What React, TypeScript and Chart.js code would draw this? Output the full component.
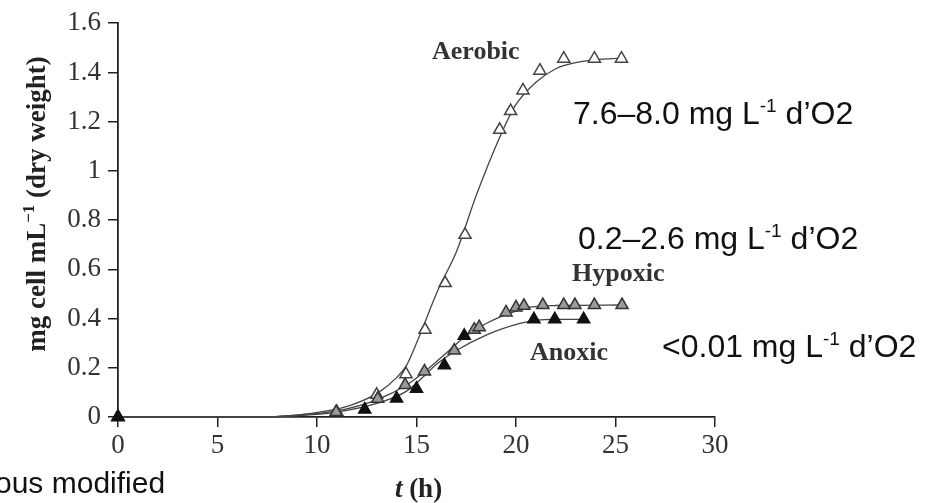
import React, { useEffect, useRef } from 'react';
import { Chart, registerables } from 'chart.js';

Chart.register(...registerables);

// ---- tick labels ----
const xTickLabels = ['0', '5', '10', '15', '20', '25', '30'];
const yTickLabels = ['0', '0.2', '0.4', '0.6', '0.8', '1', '1.2', '1.4', '1.6'];

// ---- measured points (t in h, mg cell mL-1) ----
const aerobicT = [0, 11.0, 13.0, 14.47, 15.43, 16.44, 17.44, 19.18, 19.73, 20.35, 21.2, 22.4, 23.94, 25.3];
const aerobicV = [0, 0.02, 0.09, 0.174, 0.354, 0.544, 0.74, 1.167, 1.243, 1.327, 1.407, 1.456, 1.456, 1.456];

const hypoxicT = [0, 10.96, 13.05, 14.43, 15.4, 16.9, 17.9, 18.15, 19.5, 20.0, 20.4, 21.35, 22.4, 22.96, 23.94, 25.33];
const hypoxicV = [0, 0.02, 0.074, 0.13, 0.185, 0.27, 0.355, 0.365, 0.425, 0.445, 0.452, 0.455, 0.455, 0.455, 0.455, 0.455];

const anoxicT = [0, 12.4, 14.0, 15.0, 16.4, 17.4, 20.9, 21.95, 23.4];
const anoxicV = [0, 0.03, 0.075, 0.115, 0.21, 0.33, 0.397, 0.397, 0.397];

// ---- fitted curves ----
const aerobicFitT = [0, 7, 9, 10.5, 11.6, 13.1, 14, 14.5, 15.1, 16.1, 17, 18, 19.2, 20, 21, 22, 23, 24, 25.3];
const aerobicFitV = [0, 0, 0.008, 0.025, 0.045, 0.1, 0.16, 0.21, 0.32, 0.52, 0.67, 0.9, 1.14, 1.27, 1.36, 1.415, 1.44, 1.452, 1.458];

const hypoxicFitT = [0, 7, 9, 11, 13, 14.5, 15.5, 16.5, 17.5, 18.5, 19.3, 20, 20.8, 22, 25.33];
const hypoxicFitV = [0, 0, 0.008, 0.025, 0.07, 0.13, 0.19, 0.26, 0.33, 0.38, 0.41, 0.43, 0.447, 0.453, 0.455];

const anoxicFitT = [0, 7, 9, 11, 13, 14.5, 16.1, 17, 18.5, 20.2, 21, 22, 23.4];
const anoxicFitV = [0, 0, 0.005, 0.02, 0.055, 0.105, 0.22, 0.27, 0.333, 0.38, 0.393, 0.397, 0.397];

const toXY = (ts: number[], vs: number[]) => ts.map((t, i) => ({ x: t, y: vs[i] }));

const SERIF = '"Liberation Serif", "Times New Roman", serif';
const SANS = '"Liberation Sans", Arial, Helvetica, sans-serif';

function drawWithSup(
  ctx: CanvasRenderingContext2D,
  before: string,
  sup: string,
  after: string,
  x: number,
  y: number,
  font: string,
  supFont: string,
  raise: number
) {
  ctx.font = font;
  ctx.fillText(before, x, y);
  let cx = x + ctx.measureText(before).width;
  ctx.font = supFont;
  ctx.fillText(sup, cx, y - raise);
  cx += ctx.measureText(sup).width;
  ctx.font = font;
  ctx.fillText(after, cx, y);
}

function measureWithSup(ctx: CanvasRenderingContext2D, before: string, sup: string, after: string, font: string, supFont: string) {
  ctx.font = font;
  let w = ctx.measureText(before).width + ctx.measureText(after).width;
  ctx.font = supFont;
  w += ctx.measureText(sup).width;
  return w;
}

const annotations = {
  id: 'annotations',
  afterDraw(chart: any) {
    const ctx: CanvasRenderingContext2D = chart.ctx;
    ctx.save();
    ctx.textAlign = 'left';
    ctx.textBaseline = 'alphabetic';

    // series labels
    ctx.fillStyle = '#333';
    ctx.font = `bold 26px ${SERIF}`;
    ctx.fillText('Aerobic', 432, 59);
    ctx.fillText('Hypoxic', 572, 281);
    ctx.fillText('Anoxic', 530, 360);

    // oxygen notes
    ctx.fillStyle = '#111';
    const f = `32px ${SANS}`;
    const fs = `19px ${SANS}`;
    drawWithSup(ctx, '7.6–8.0 mg L', '-1', ' d’O2', 573, 124, f, fs, 12);
    drawWithSup(ctx, '0.2–2.6 mg L', '-1', ' d’O2', 578, 249, f, fs, 12);
    drawWithSup(ctx, '<0.01 mg L', '-1', ' d’O2', 662, 357, f, fs, 12);

    // source fragment
    ctx.font = `30px ${SANS}`;
    ctx.fillText('ous modified', -5, 493);

    // x axis title
    ctx.fillStyle = '#222';
    const ft = `italic bold 27px ${SERIF}`;
    const fh = `bold 27px ${SERIF}`;
    ctx.font = ft;
    const wt = ctx.measureText('t').width;
    ctx.font = fh;
    const wh = ctx.measureText(' (h)').width;
    const xs = chart.scales.x;
    const cxTitle = (xs.left + xs.right) / 2 + 2;
    const sx = cxTitle - (wt + wh) / 2;
    ctx.font = ft;
    ctx.fillText('t', sx, 497);
    ctx.font = fh;
    ctx.fillText(' (h)', sx + wt, 497);

    // y axis title (rotated)
    const fy = `bold 27px ${SERIF}`;
    const fys = `bold 17px ${SERIF}`;
    const wy = measureWithSup(ctx, 'mg cell mL', '−1', ' (dry weight)', fy, fys);
    ctx.translate(45, 204);
    ctx.rotate(-Math.PI / 2);
    drawWithSup(ctx, 'mg cell mL', '−1', ' (dry weight)', -wy / 2, 0, fy, fys, 11);

    ctx.restore();
  },
};

export default function App() {
  const ref = useRef<HTMLCanvasElement | null>(null);

  useEffect(() => {
    if (!ref.current) return;
    const fitLine = (data: any[]) => ({
      type: 'line' as const,
      data,
      borderColor: '#444',
      borderWidth: 1.3,
      pointRadius: 0,
      fill: false,
      cubicInterpolationMode: 'monotone' as const,
      clip: false as any,
    });
    const pts = (data: any[], fillColor: string, stroke: string) => ({
      type: 'line' as const,
      data,
      showLine: false,
      pointStyle: 'triangle' as const,
      pointRadius: 7,
      pointBorderWidth: 1.5,
      pointBackgroundColor: fillColor,
      pointBorderColor: stroke,
      borderColor: stroke,
      backgroundColor: fillColor,
      clip: false as any,
    });

    const chart = new Chart(ref.current, {
      type: 'line',
      data: {
        datasets: [
          pts(toXY(anoxicT, anoxicV), '#111', '#111'),
          pts(toXY(hypoxicT, hypoxicV), '#9a9a9a', '#333'),
          pts(toXY(aerobicT, aerobicV), '#ffffff', '#444'),
          fitLine(toXY(anoxicFitT, anoxicFitV)),
          fitLine(toXY(hypoxicFitT, hypoxicFitV)),
          fitLine(toXY(aerobicFitT, aerobicFitV)),
        ],
      },
      options: {
        responsive: false,
        animation: false,
        devicePixelRatio: 1,
        layout: { padding: { left: 0, top: 17, right: 220, bottom: 0 } },
        plugins: { legend: { display: false }, tooltip: { enabled: false } },
        scales: {
          x: {
            type: 'linear',
            min: 0,
            max: 30,
            ticks: {
              stepSize: 5,
              autoSkip: false,
              maxRotation: 0,
              padding: 3,
              color: '#333',
              font: { family: SERIF, size: 27 },
              callback: (_v: any, i: number) => xTickLabels[i],
            },
            grid: { drawOnChartArea: false, drawTicks: true, tickLength: 10, color: '#222', lineWidth: 1.5 },
            border: { display: true, color: '#222', width: 1.8 },
            afterFit: (s: any) => {
              s.height = 86;
            },
          },
          y: {
            type: 'linear',
            min: 0,
            max: 1.6,
            ticks: {
              stepSize: 0.2,
              autoSkip: false,
              padding: 7,
              color: '#333',
              font: { family: SERIF, size: 27 },
              callback: (_v: any, i: number) => yTickLabels[i],
            },
            grid: { drawOnChartArea: false, drawTicks: true, tickLength: 10, color: '#222', lineWidth: 1.5 },
            border: { display: true, color: '#222', width: 1.8 },
            afterFit: (s: any) => {
              s.width = 118;
            },
          },
        },
      },
      plugins: [annotations],
    });
    return () => chart.destroy();
  }, []);

  return (
    <div style={{ position: 'fixed', left: 0, top: 0, width: 935, height: 503, background: '#fff' }}>
      <canvas ref={ref} width={935} height={503} style={{ display: 'block', width: 935, height: 503 }} />
    </div>
  );
}
